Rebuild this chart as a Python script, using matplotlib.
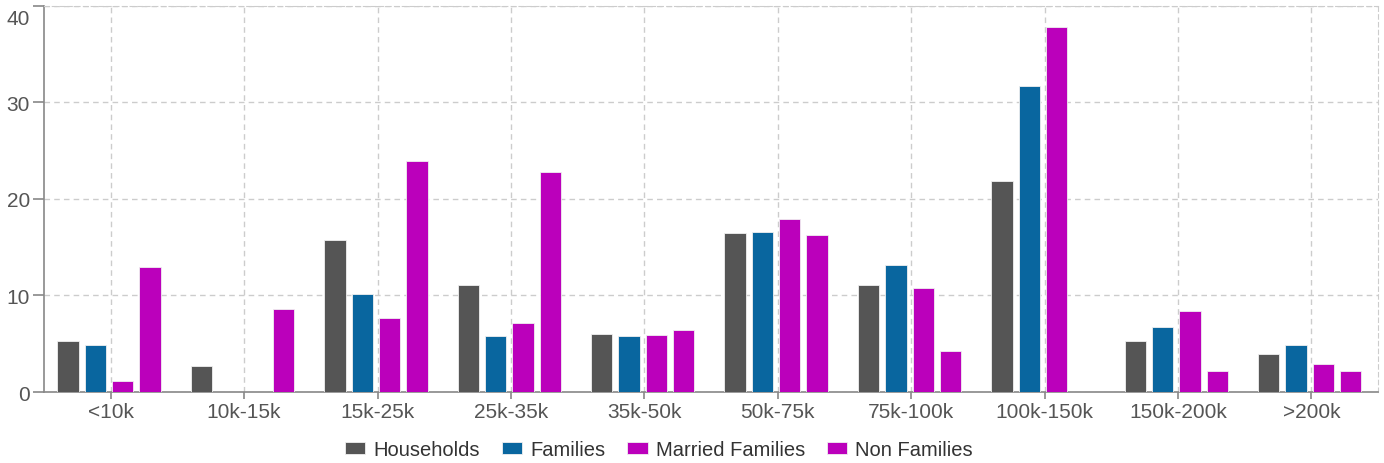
import numpy as np
import matplotlib.pyplot as plt
import matplotlib.transforms as mtransforms

plt.rcParams['font.family'] = ['Liberation Sans', 'DejaVu Sans']

categories = ['<10k', '10k-15k', '15k-25k', '25k-35k', '35k-50k',
              '50k-75k', '75k-100k', '100k-150k', '150k-200k', '>200k']
households = [5.3, 2.65, 15.8, 11.05, 6.05, 16.45, 11.05, 21.9, 5.3, 3.95]
families = [4.9, 0, 10.15, 5.85, 5.85, 16.6, 13.15, 31.75, 6.75, 4.85]
married_families = [1.15, 0, 7.7, 7.15, 5.95, 17.95, 10.75, 37.85, 8.35, 2.95]
non_families = [13.0, 8.65, 23.9, 22.75, 6.45, 16.3, 4.25, 0, 2.15, 2.15]

series = [
    ('Households', households, '#555555'),
    ('Families', families, '#09669f'),
    ('Married Families', married_families, '#bb00bb'),
    ('Non Families', non_families, '#bb00bb'),
]

fig = plt.figure(figsize=(13.84, 4.64), dpi=100)
ax = fig.add_axes([0.0318, 0.153, 0.9639, 0.832])

x = np.arange(len(categories))
step = 0.205
width = 0.16
for i, (name, vals, color) in enumerate(series):
    ax.bar(x + (i - 1.5) * step - 0.012, vals, width, color=color, label=name,
           edgecolor='#f0f0f0', linewidth=0.6, zorder=3)

ax.set_xlim(-0.5, len(categories) - 0.5)
ax.set_ylim(0, 40)
ax.set_yticks([0, 10, 20, 30, 40])
ax.set_xticks(x)
ax.set_xticklabels(categories)

ax.grid(True, color='#cccccc', linestyle=(0, (4, 3)), linewidth=1, zorder=0)
for side in ['top', 'right']:
    ax.spines[side].set_color('#cccccc')
    ax.spines[side].set_linestyle((0, (4, 3)))
for side in ['left', 'bottom']:
    ax.spines[side].set_color('#888888')
    ax.spines[side].set_linewidth(1.2)

ax.tick_params(axis='both', colors='#888888', labelcolor='#555555',
               labelsize=15, width=1.2, pad=2)
ax.tick_params(axis='x', length=5)
ax.tick_params(axis='y', length=8)

# top label sits inside the figure in the original
top_lbl = ax.get_yticklabels()[-1]
top_lbl.set_va('top')
top_lbl.set_transform(top_lbl.get_transform() +
                      mtransforms.ScaledTranslation(0, -3 / 100, fig.dpi_scale_trans))

ax.legend(loc='center', bbox_to_anchor=(0.461, -0.15), ncol=4,
          frameon=False, fontsize=14.5, handlelength=1.0, handleheight=0.55,
          handletextpad=0.4, columnspacing=1.1, labelcolor='#333333')

fig.savefig('out.png', dpi=100)
